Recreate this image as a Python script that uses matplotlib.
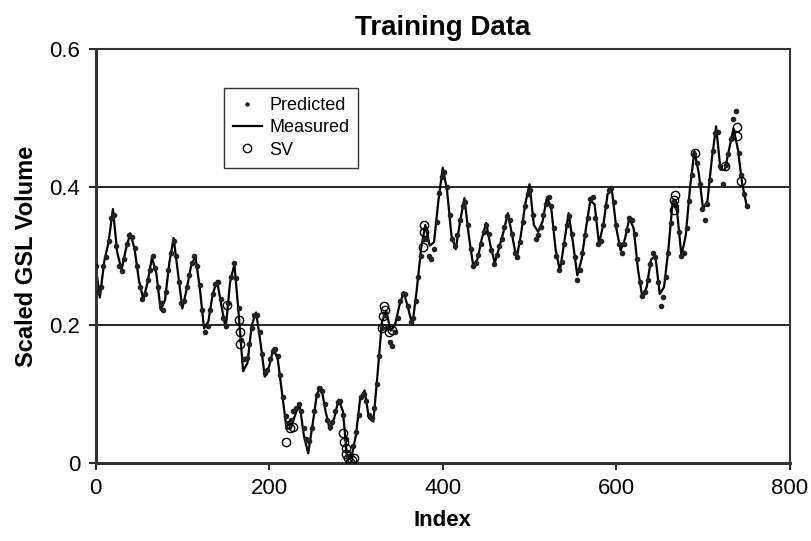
import numpy as np
import matplotlib
matplotlib.use('Agg')
import matplotlib.pyplot as plt

plt.rcParams['font.family'] = ['Liberation Sans', 'DejaVu Sans']

# Measured series, every 5th index (0 .. 750)
measured_idx = np.arange(0, 751, 5)
measured = [
    0.287, 0.240, 0.292, 0.320, 0.368, 0.305, 0.280, 0.310, 0.333, 0.310,
    0.265, 0.237, 0.262, 0.298, 0.275, 0.222, 0.236, 0.290, 0.326, 0.275,
    0.224, 0.252, 0.285, 0.300, 0.255, 0.195, 0.205, 0.245, 0.264, 0.228,
    0.195, 0.262, 0.288, 0.215, 0.133, 0.145, 0.200, 0.218, 0.175, 0.125,
    0.140, 0.166, 0.150, 0.100, 0.050, 0.050, 0.070, 0.086, 0.040, 0.014,
    0.055, 0.100, 0.110, 0.075, 0.048, 0.065, 0.092, 0.075, 0.005, 0.010,
    0.040, 0.095, 0.105, 0.065, 0.060, 0.130, 0.205, 0.220, 0.192, 0.200,
    0.228, 0.248, 0.225, 0.200, 0.250, 0.310, 0.345, 0.315, 0.320, 0.380,
    0.428, 0.395, 0.330, 0.310, 0.350, 0.384, 0.330, 0.287, 0.295, 0.325,
    0.348, 0.315, 0.290, 0.312, 0.335, 0.362, 0.330, 0.296, 0.330, 0.375,
    0.404, 0.345, 0.335, 0.350, 0.385, 0.370, 0.310, 0.278, 0.320, 0.362,
    0.320, 0.272, 0.295, 0.340, 0.380, 0.375, 0.318, 0.345, 0.390, 0.395,
    0.340, 0.308, 0.325, 0.355, 0.340, 0.280, 0.240, 0.255, 0.295, 0.300,
    0.245, 0.255, 0.310, 0.380, 0.365, 0.300, 0.330, 0.400, 0.452, 0.420,
    0.368, 0.380, 0.440, 0.488, 0.425, 0.425, 0.455, 0.485, 0.455, 0.405,
    0.374,
]

# Predicted series, every 3rd index (0 .. 750)
predicted_idx = np.arange(0, 751, 3)
predicted = [
    0.285, 0.248, 0.255, 0.285, 0.298, 0.322, 0.355, 0.360, 0.315, 0.285,
    0.278, 0.295, 0.318, 0.330, 0.328, 0.312, 0.285, 0.255, 0.238, 0.245,
    0.265, 0.280, 0.300, 0.282, 0.255, 0.232, 0.222, 0.248, 0.280, 0.305,
    0.322, 0.300, 0.262, 0.232, 0.235, 0.255, 0.272, 0.290, 0.300, 0.285,
    0.258, 0.222, 0.190, 0.198, 0.222, 0.245, 0.260, 0.262, 0.238, 0.210,
    0.198, 0.232, 0.270, 0.290, 0.268, 0.225, 0.178, 0.150, 0.152, 0.172,
    0.195, 0.215, 0.215, 0.190, 0.158, 0.130, 0.135, 0.150, 0.162, 0.165,
    0.155, 0.128, 0.095, 0.068, 0.058, 0.062, 0.075, 0.080, 0.085, 0.075,
    0.050, 0.035, 0.032, 0.050, 0.075, 0.098, 0.108, 0.105, 0.085, 0.062,
    0.052, 0.060, 0.075, 0.088, 0.090, 0.070, 0.035, 0.008, 0.012, 0.025,
    0.045, 0.070, 0.095, 0.100, 0.090, 0.070, 0.065, 0.080, 0.115, 0.155,
    0.195, 0.215, 0.195, 0.175, 0.170, 0.190, 0.210, 0.235, 0.245, 0.245,
    0.228, 0.205, 0.210, 0.235, 0.270, 0.300, 0.325, 0.325, 0.300, 0.295,
    0.310, 0.350, 0.392, 0.415, 0.422, 0.400, 0.360, 0.325, 0.315, 0.330,
    0.352, 0.372, 0.378, 0.345, 0.310, 0.285, 0.290, 0.302, 0.318, 0.335,
    0.345, 0.332, 0.308, 0.288, 0.302, 0.315, 0.325, 0.342, 0.358, 0.352,
    0.332, 0.305, 0.298, 0.320, 0.350, 0.372, 0.390, 0.395, 0.360, 0.325,
    0.330, 0.342, 0.360, 0.375, 0.385, 0.372, 0.340, 0.300, 0.280, 0.292,
    0.318, 0.345, 0.358, 0.332, 0.298, 0.265, 0.280, 0.305, 0.330, 0.355,
    0.382, 0.385, 0.355, 0.318, 0.322, 0.345, 0.372, 0.395, 0.398, 0.378,
    0.345, 0.318, 0.305, 0.318, 0.338, 0.355, 0.352, 0.332, 0.295, 0.262,
    0.242, 0.248, 0.265, 0.288, 0.305, 0.298, 0.262, 0.228, 0.240, 0.270,
    0.305, 0.348, 0.380, 0.372, 0.335, 0.300, 0.305, 0.340, 0.380, 0.418,
    0.448, 0.435, 0.405, 0.368, 0.352, 0.375, 0.410, 0.452, 0.478, 0.480,
    0.430, 0.405, 0.432, 0.448, 0.470, 0.498, 0.510, 0.450, 0.418, 0.390,
    0.372,
]

# Support vectors
sv_idx = [152, 165, 166, 167, 220, 224, 227,
          285, 286, 288, 289, 291, 293, 295, 298,
          330, 331, 332, 333, 338, 341,
          377, 379, 379, 666, 667, 668, 691, 725, 739, 739, 744]
sv_val = [0.229, 0.207, 0.190, 0.172, 0.031, 0.050, 0.052,
          0.043, 0.031, 0.021, 0.013, 0.007, 0.002, 0.005, 0.007,
          0.195, 0.213, 0.228, 0.222, 0.190, 0.193,
          0.313, 0.335, 0.345, 0.367, 0.381, 0.388, 0.449, 0.430, 0.487, 0.474, 0.409]

fig = plt.figure(figsize=(8.11, 5.41), dpi=100)
ax = fig.add_axes([0.1178, 0.1442, 0.8562, 0.7652])

ax.plot(predicted_idx, predicted, linestyle='none', marker='o', markersize=3.0,
        color='#222222', label='Predicted', zorder=3)
ax.plot(measured_idx, measured, '-', color='black', linewidth=1.6,
        label='Measured', zorder=2)
ax.plot(sv_idx, sv_val, linestyle='none', marker='o', markersize=6,
        markerfacecolor='none', markeredgecolor='black', markeredgewidth=1.0,
        label='SV', zorder=4)

ax.set_xlim(0, 800)
ax.set_ylim(0, 0.6)
ax.set_xticks([0, 200, 400, 600, 800])
ax.set_yticks([0, 0.2, 0.4, 0.6])
ax.set_yticklabels(['0', '0.2', '0.4', '0.6'])
ax.tick_params(direction='out', length=5, width=1.2, labelsize=16, pad=6)

for y in [0.2, 0.4]:
    ax.axhline(y, color='black', linewidth=1.2, zorder=1)

for side in ['top', 'right']:
    ax.spines[side].set_linewidth(1.5)
    ax.spines[side].set_color('#333333')
for side in ['left', 'bottom']:
    ax.spines[side].set_linewidth(2.2)
    ax.spines[side].set_color('#333333')

ax.set_title('Training Data', fontsize=20, fontweight='bold', pad=10)
ax.set_xlabel('Index', fontsize=16, fontweight='bold', labelpad=8)
ax.set_ylabel('Scaled GSL Volume', fontsize=17, fontweight='bold', labelpad=8)

leg = ax.legend(loc='upper left', bbox_to_anchor=(0.185, 0.906), borderaxespad=0,
                fontsize=13, frameon=True, fancybox=False, handlelength=1.6,
                handletextpad=0.4, borderpad=0.5, labelspacing=0.3)
leg.get_frame().set_edgecolor('black')
leg.get_frame().set_linewidth(1.0)
leg.legend_handles[0].set_markersize(2.2)

fig.savefig('out.png', dpi=100)
